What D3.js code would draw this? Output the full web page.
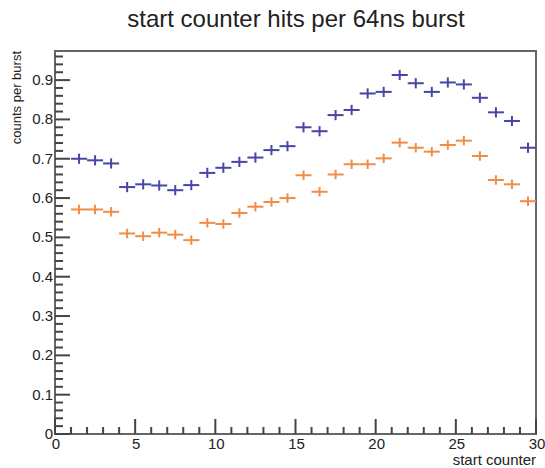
<!DOCTYPE html>
<html>
<head>
<meta charset="utf-8">
<script src="https://cdn.jsdelivr.net/npm/d3@7"></script>
<style>
  body { margin: 0; background: #fff; }
  text { font-family: "Liberation Sans", Arial, sans-serif; fill: #222; }
</style>
</head>
<body>
<svg id="chart" width="545" height="468"></svg>
<script>
// ===== data =====
var binCenters = [1.5, 2.5, 3.5, 4.5, 5.5, 6.5, 7.5, 8.5, 9.5, 10.5, 11.5, 12.5, 13.5, 14.5,
  15.5, 16.5, 17.5, 18.5, 19.5, 20.5, 21.5, 22.5, 23.5, 24.5, 25.5, 26.5, 27.5, 28.5, 29.5];

var blueValues = [0.700, 0.696, 0.688, 0.628, 0.635, 0.632, 0.620, 0.633, 0.664, 0.677, 0.692, 0.703, 0.722, 0.732,
  0.780, 0.770, 0.811, 0.824, 0.866, 0.870, 0.913, 0.892, 0.870, 0.894, 0.889, 0.855, 0.818, 0.796, 0.728];

var orangeValues = [0.571, 0.571, 0.565, 0.510, 0.503, 0.512, 0.507, 0.493, 0.537, 0.534, 0.562, 0.578, 0.590, 0.600,
  0.658, 0.616, 0.660, 0.686, 0.686, 0.701, 0.741, 0.728, 0.718, 0.735, 0.746, 0.707, 0.646, 0.635, 0.592];

var blueErr = 0.013;
var orangeErr = 0.012;
var binHalf = 0.5;

var xTicks = [0, 5, 10, 15, 20, 25, 30];
var yTicks = [0, 0.1, 0.2, 0.3, 0.4, 0.5, 0.6, 0.7, 0.8, 0.9];

var titleText = "start counter hits per 64ns burst";
var xLabel = "start counter";
var yLabel = "counts per burst";

// ===== layout =====
var svg = d3.select("#chart");
var frameL = 55, frameR = 536, frameT = 51, frameB = 434;

var x = d3.scaleLinear().domain([0, 30]).range([frameL, frameR]);
var y = d3.scaleLinear().domain([0, 0.974]).range([frameB, frameT]);

// frame
svg.append("rect")
  .attr("x", frameL).attr("y", frameT)
  .attr("width", frameR - frameL).attr("height", frameB - frameT)
  .attr("fill", "none").attr("stroke", "#666").attr("stroke-width", 2);

// y axis ticks (inside, pointing right)
var yMinor = d3.range(0, 0.97, 0.02);
svg.append("g").selectAll("line").data(yMinor).enter().append("line")
  .attr("x1", frameL).attr("x2", function (d) {
    return (Math.round(d * 100) % 10 === 0) ? frameL + 15 : frameL + 8;
  })
  .attr("y1", function (d) { return y(d); }).attr("y2", function (d) { return y(d); })
  .attr("stroke", "#444").attr("stroke-width", 2);

svg.append("g").selectAll("text").data(yTicks).enter().append("text")
  .attr("x", frameL - 2).attr("y", function (d) { return y(d) + 5; })
  .attr("text-anchor", "end").attr("font-size", 15)
  .text(function (d) { return d === 0 ? "0" : d3.format(".1f")(d); });

// x axis ticks (inside, pointing up)
var xMinor = d3.range(0, 31, 1);
svg.append("g").selectAll("line").data(xMinor).enter().append("line")
  .attr("x1", function (d) { return x(d); }).attr("x2", function (d) { return x(d); })
  .attr("y1", frameB).attr("y2", function (d) { return d % 5 === 0 ? frameB - 15 : frameB - 7; })
  .attr("stroke", "#444").attr("stroke-width", 2);

svg.append("g").selectAll("text").data(xTicks).enter().append("text")
  .attr("x", function (d) { return x(d) + 1; }).attr("y", frameB + 15)
  .attr("text-anchor", "middle").attr("font-size", 15)
  .text(function (d) { return d; });

// axis titles
svg.append("text")
  .attr("x", frameR).attr("y", 465)
  .attr("text-anchor", "end").attr("font-size", 15)
  .text(xLabel);

svg.append("text")
  .attr("transform", "translate(21," + frameT + ") rotate(-90)")
  .attr("text-anchor", "end").attr("font-size", 13)
  .text(yLabel);

// title
svg.append("text")
  .attr("x", 296).attr("y", 27)
  .attr("text-anchor", "middle").attr("font-size", 24)
  .text(titleText);

// ===== error-bar crosses =====
function drawSeries(values, err, color) {
  var g = svg.append("g").attr("stroke", color).attr("stroke-width", 2);
  g.selectAll("line.h").data(values).enter().append("line")
    .attr("class", "h")
    .attr("x1", function (d, i) { return x(binCenters[i] - binHalf); })
    .attr("x2", function (d, i) { return x(binCenters[i] + binHalf); })
    .attr("y1", function (d) { return y(d); })
    .attr("y2", function (d) { return y(d); });
  g.selectAll("line.v").data(values).enter().append("line")
    .attr("class", "v")
    .attr("x1", function (d, i) { return x(binCenters[i]); })
    .attr("x2", function (d, i) { return x(binCenters[i]); })
    .attr("y1", function (d) { return y(d - err); })
    .attr("y2", function (d) { return y(d + err); });
}

drawSeries(blueValues, blueErr, "#4646a8");
drawSeries(orangeValues, orangeErr, "#f08c46");
</script>
</body>
</html>
